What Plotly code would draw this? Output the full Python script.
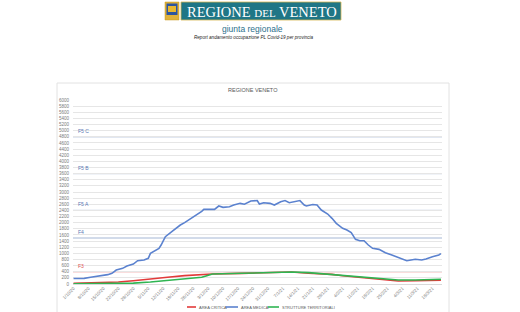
import plotly.graph_objects as go

# ---------------- data ----------------
medica_dates = ["2020-10-01","2020-10-06","2020-10-09","2020-10-14","2020-10-17","2020-10-19","2020-10-21",
    "2020-10-24","2020-10-26","2020-10-29","2020-10-31","2020-11-03","2020-11-05","2020-11-06","2020-11-10",
    "2020-11-11","2020-11-13","2020-11-16","2020-11-18","2020-11-20","2020-11-22","2020-11-24","2020-11-26",
    "2020-11-28","2020-11-30","2020-12-01","2020-12-06","2020-12-08","2020-12-10","2020-12-13","2020-12-15",
    "2020-12-18","2020-12-20","2020-12-23","2020-12-26","2020-12-27","2020-12-29","2021-01-01","2021-01-03",
    "2021-01-06","2021-01-08","2021-01-10","2021-01-14","2021-01-15","2021-01-17","2021-01-18","2021-01-21",
    "2021-01-23","2021-01-25","2021-01-28","2021-01-30","2021-02-01","2021-02-04","2021-02-06","2021-02-08",
    "2021-02-10","2021-02-12","2021-02-14","2021-02-16","2021-02-18","2021-02-21","2021-02-24","2021-02-27",
    "2021-03-01","2021-03-03","2021-03-06","2021-03-08","2021-03-10","2021-03-13","2021-03-15","2021-03-18",
    "2021-03-21","2021-03-22"]
medica_vals = [180,185,218,260,305,350,456,510,587,652,760,782,837,1000,1163,1271,1543,1706,1815,1923,2000,
    2086,2174,2282,2370,2435,2435,2543,2500,2520,2575,2630,2600,2706,2720,2608,2650,2630,2575,2684,2720,2650,
    2706,2720,2575,2543,2590,2575,2412,2282,2141,1978,1815,1760,1673,1456,1412,1412,1271,1163,1130,1021,945,
    890,837,760,782,805,782,815,890,945,990]

critica_dates = ["2020-10-01","2020-10-14","2020-10-22","2020-10-29","2020-11-06","2020-11-14","2020-11-22",
    "2020-11-25","2020-11-30","2020-12-05","2020-12-19","2020-12-27","2021-01-11","2021-01-19","2021-01-27",
    "2021-01-30","2021-02-04","2021-02-07","2021-02-15","2021-02-23","2021-03-02","2021-03-10","2021-03-18",
    "2021-03-22"]
critica_vals = [20,40,65,108,153,218,272,285,315,326,348,370,390,350,326,315,270,250,185,130,98,108,115,120]

territoriali_dates = ["2020-10-01","2020-10-14","2020-10-22","2020-10-29","2020-11-06","2020-11-14",
    "2020-11-22","2020-11-25","2020-11-30","2020-12-02","2020-12-05","2020-12-19","2020-12-27","2021-01-11",
    "2021-01-19","2021-01-27","2021-02-04","2021-02-07","2021-02-15","2021-02-23","2021-03-02","2021-03-10",
    "2021-03-18","2021-03-22"]
territoriali_vals = [10,12,18,30,65,108,163,180,218,260,326,350,365,390,370,326,270,255,207,163,130,130,140,153]

threshold_labels = ["F5 C", "F5 B", "F5 A", "F4", "F3"]
threshold_vals = [4800, 3600, 2400, 1500, 400]
threshold_colors = ["#c3cfe3", "#c3cfe3", "#c3cfe3", "#c3cfe3", "#f5bcbc"]
threshold_text_colors = ["#5b78b5", "#5b78b5", "#5b78b5", "#5b78b5", "#e05050"]

series_names = ["AREA CRITICA", "AREA MEDICA", "STRUTTURE TERRITORIALI"]
series_colors = ["#e23a3a", "#5b82cf", "#2fb552"]

# ---------------- geometry helpers ----------------
W, H = 520, 312
PL, PR, PT, PB = 73, 442, 100, 284
def px(x):
    return (x - PL) / (PR - PL)
def py(y):
    return (PB - y) / (PB - PT)

fig = go.Figure()
for name, d, v, c in [(series_names[0], critica_dates, critica_vals, series_colors[0]),
                      (series_names[2], territoriali_dates, territoriali_vals, series_colors[2]),
                      (series_names[1], medica_dates, medica_vals, series_colors[1])]:
    fig.add_trace(go.Scatter(x=d, y=v, mode="lines", name=name,
                             line=dict(color=c, width=1.6), showlegend=False))

shapes = []
annotations = []

def note(x, y, text, size, color, family="Liberation Sans", xanchor="center"):
    annotations.append(dict(x=px(x), y=py(y), xref="paper", yref="paper", text=text, showarrow=False,
                            xanchor=xanchor, yanchor="middle",
                            font=dict(size=size, color=color, family=family)))

# chart box
shapes.append(dict(type="rect", xref="paper", yref="paper", x0=px(57), x1=px(449), y0=py(330), y1=py(83),
                   line=dict(color="#e2e2e2", width=1), fillcolor="rgba(0,0,0,0)", layer="below"))

# thresholds
for lab, val, lc, tc in zip(threshold_labels, threshold_vals, threshold_colors, threshold_text_colors):
    shapes.append(dict(type="line", xref="paper", yref="y", x0=0, x1=1, y0=val, y1=val,
                       line=dict(color=lc, width=1.4), layer="below"))
    annotations.append(dict(x=px(76), y=val, xref="paper", yref="y", text=lab, showarrow=False,
                            xanchor="left", yanchor="bottom", yshift=1,
                            font=dict(size=5, color=tc, family="Liberation Sans")))

# title of chart
note(253, 90, "REGIONE VENETO", 5.5, "#595959")

# custom legend
leg = [(187, 196, 197), (226, 238, 239), (268, 279, 280)]
for (x0, x1, xt), name, c in zip(leg, series_names, series_colors):
    shapes.append(dict(type="line", xref="paper", yref="paper", x0=px(x0), x1=px(x1), y0=py(307), y1=py(307),
                       line=dict(color=c, width=1.6)))
    note(xt, 307, name, 4, "#595959", xanchor="left")

# header: logo
shapes.append(dict(type="rect", xref="paper", yref="paper", x0=px(165), x1=px(179), y0=py(20), y1=py(2),
                   fillcolor="#e0b23a", line=dict(color="#c99a20", width=0.5)))
shapes.append(dict(type="rect", xref="paper", yref="paper", x0=px(166.5), x1=px(177.5), y0=py(15), y1=py(3.5),
                   fillcolor="#2c55a0", line=dict(width=0)))
shapes.append(dict(type="rect", xref="paper", yref="paper", x0=px(168), x1=px(176), y0=py(12), y1=py(6),
                   fillcolor="#e8b830", line=dict(width=0)))
shapes.append(dict(type="rect", xref="paper", yref="paper", x0=px(181), x1=px(341), y0=py(20), y1=py(2),
                   fillcolor="#1f7686", line=dict(color="#d8b650", width=0.8)))
note(262, 11.5, "REGIONE <span style='font-size:11px'>DEL</span> VENETO", 14.5, "white", "Liberation Serif")
note(252, 28.5, "giunta regionale", 8.5, "#2b6f8c")
note(254, 37.5, "<i>Report andamento occupazione PL Covid-19 per provincia</i>", 4.6, "#222222")

fig.update_layout(
    width=W, height=H, autosize=False,
    margin=dict(l=PL, r=W - PR, t=PT, b=H - PB, pad=0, autoexpand=False),
    paper_bgcolor="white", plot_bgcolor="white",
    shapes=shapes, annotations=annotations,
    xaxis=dict(type="date", range=["2020-09-30 18:00", "2021-03-22 12:00"], automargin=False,
               tick0="2020-10-01", dtick=7 * 86400000, tickformat="%-d/%-m/%y",
               tickangle=-45, tickfont=dict(size=4.5, color="#7a7a7a", family="Liberation Sans"),
               showgrid=False, zeroline=False, showline=False, ticks=""),
    yaxis=dict(range=[0, 6000], dtick=200, tick0=0, automargin=False,
               tickfont=dict(size=4.5, color="#7a7a7a", family="Liberation Sans"),
               showgrid=True, gridcolor="#e6e6e6", gridwidth=0.8, zeroline=True,
               zerolinecolor="#d9d9d9", zerolinewidth=1, ticks="", ticklabelstandoff=3),
)

fig.write_html("out.html")
